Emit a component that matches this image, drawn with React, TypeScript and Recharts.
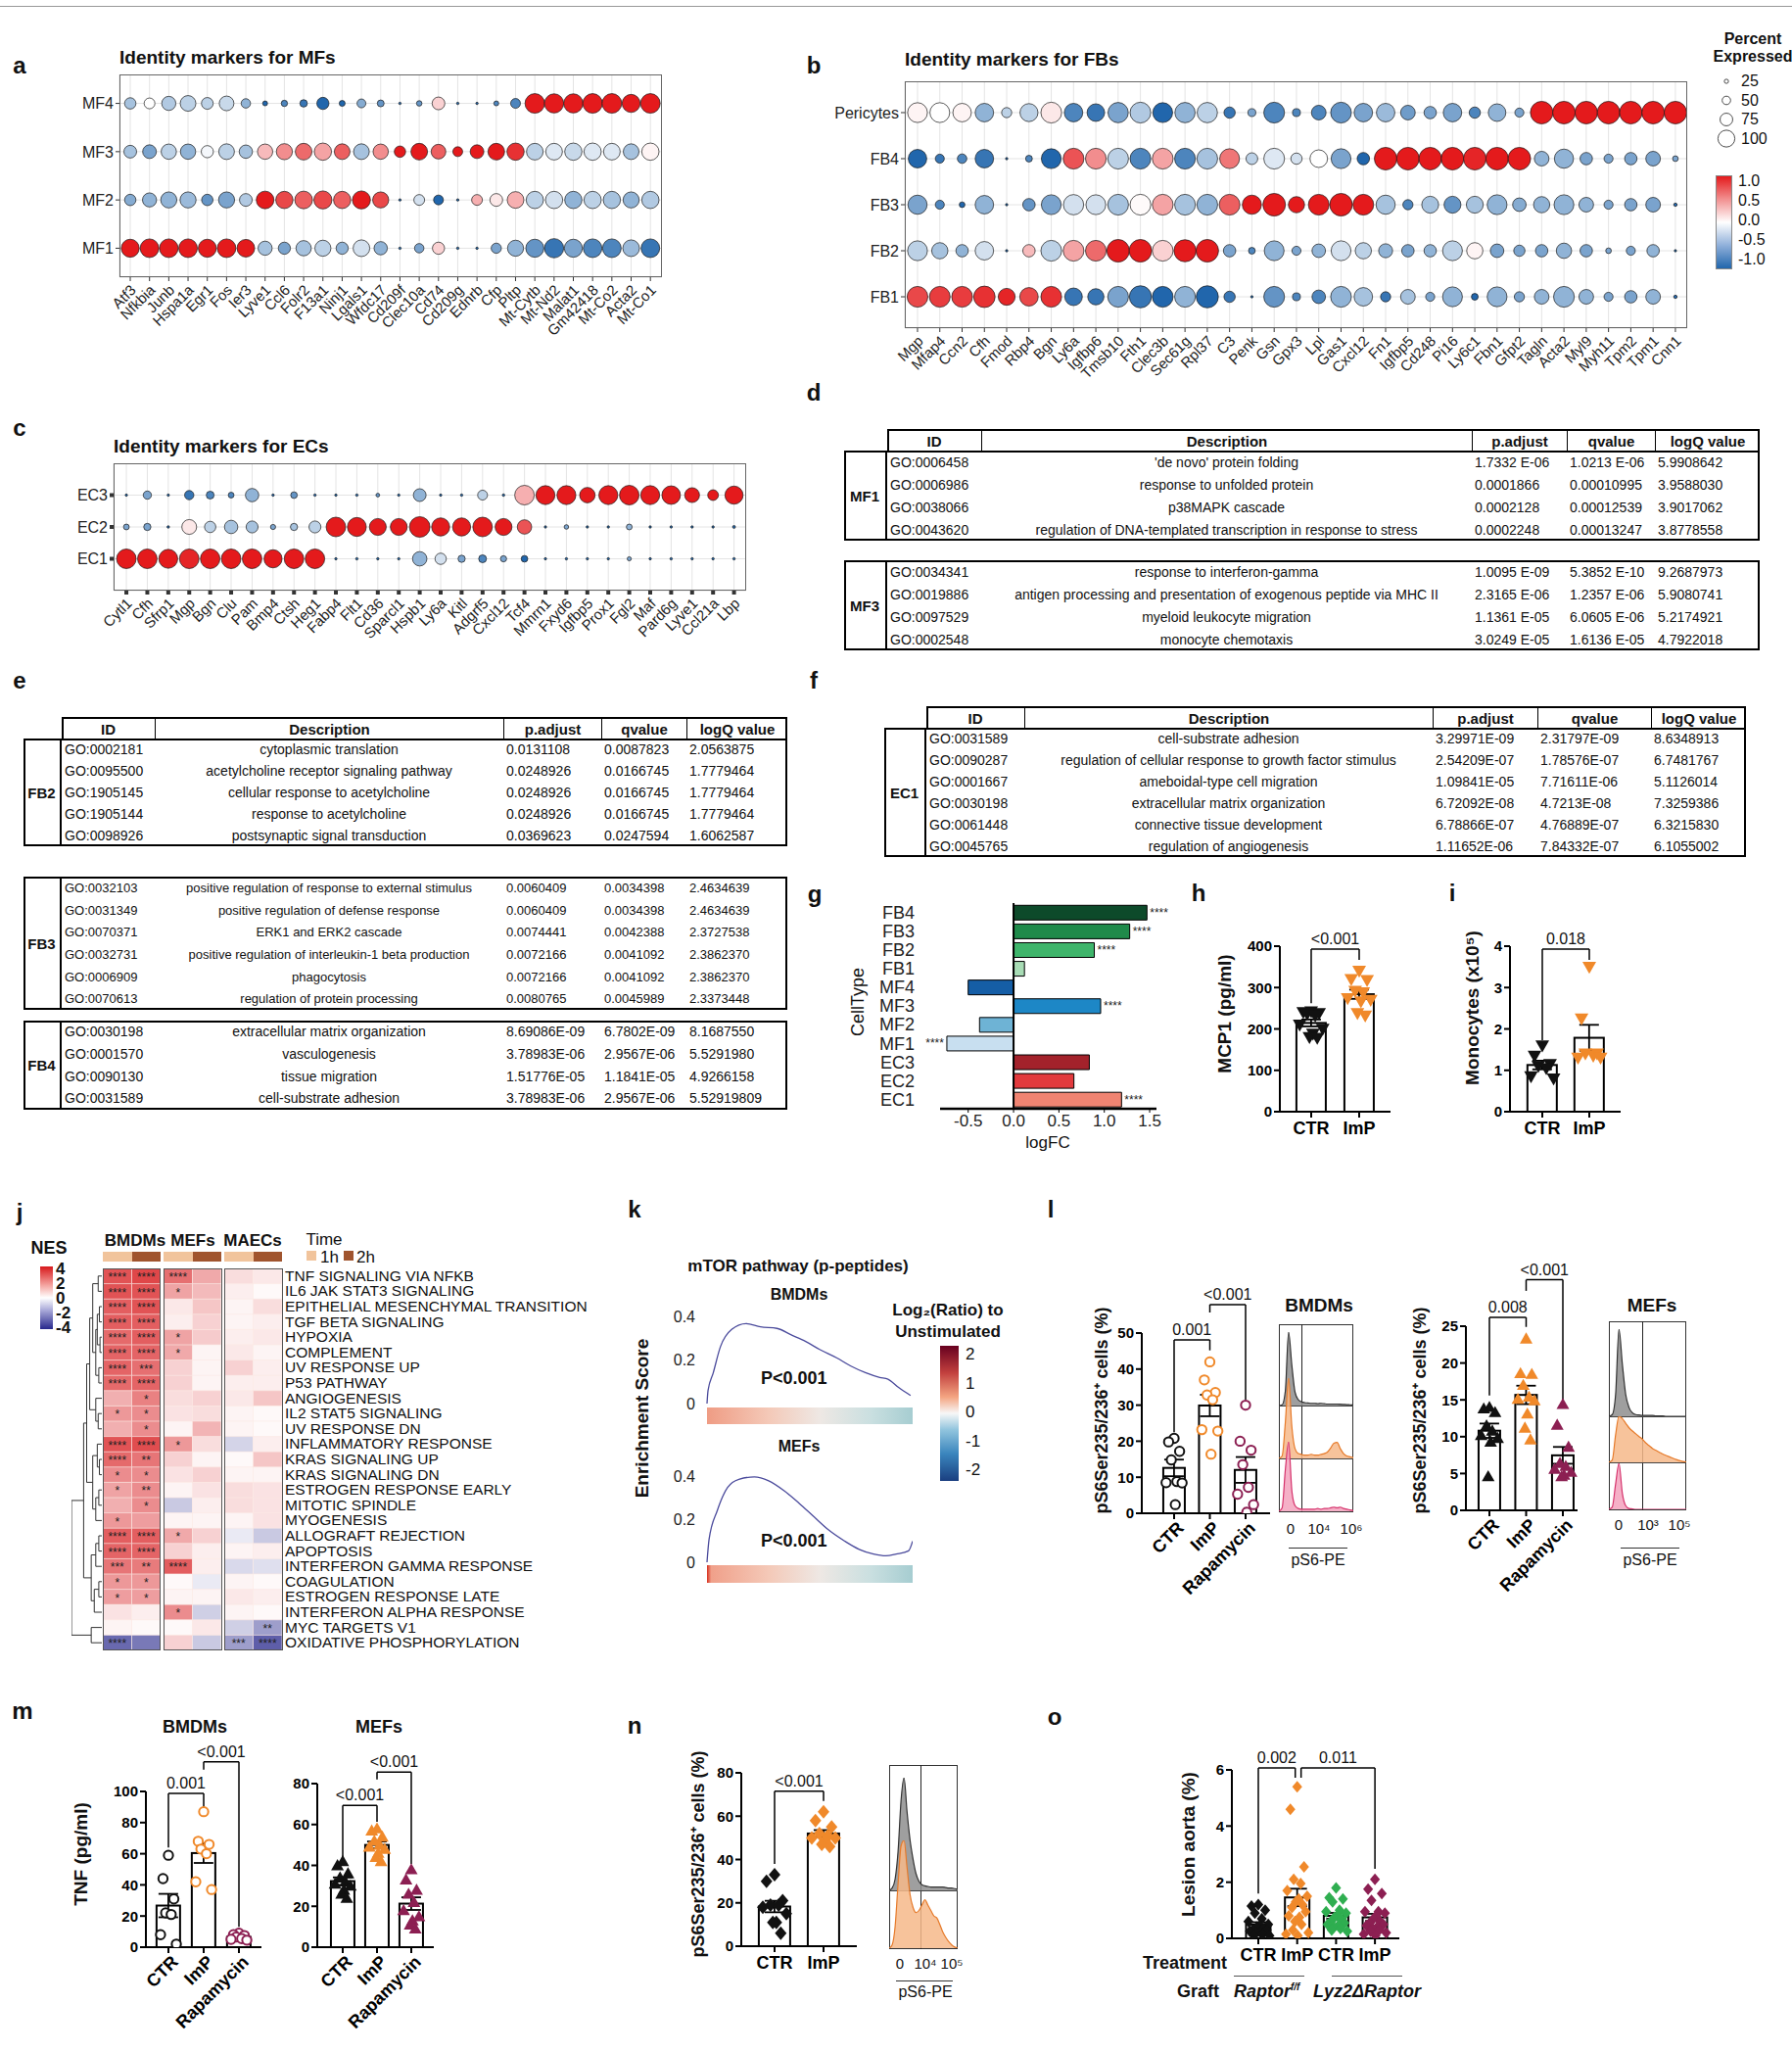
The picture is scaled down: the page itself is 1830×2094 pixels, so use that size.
import React from "react";
import {
  ScatterChart,
  Scatter,
  XAxis,
  YAxis,
  CartesianGrid,
  BarChart,
  Bar,
  Cell,
  LineChart,
  Line,
  AreaChart,
  Area,
  ComposedChart,
  ErrorBar,
  ReferenceLine,
  ReferenceDot,
  LabelList,
} from "recharts";

const FONT = "'Liberation Sans', Arial, Helvetica, sans-serif";
const NARROW = "'Liberation Sans Narrow', 'Liberation Sans', Arial, sans-serif";

// ---------- a: MF identity markers
const mfGenes = ["Atf3", "Nfkbia", "Junb", "Hspa1a", "Egr1", "Fos", "Ier3", "Lyve1", "Ccl6", "Folr2", "F13a1", "Ninj1", "Lgals1", "Wfdc17", "Cd209f", "Clec10a", "Cd74", "Cd209g", "Ednrb", "Cfp", "Pltp", "Mt-Cytb", "Mt-Nd2", "Malat1", "Gm42418", "Mt-Co2", "Acta2", "Mt-Co1"];
const mfRows = ["MF1", "MF2", "MF3", "MF4"];
const mf1Avg = [1, 1, 1, 1, 1, 1, 1, -0.4, -0.6, -0.4, -0.3, -0.5, -0.2, -0.5, -1, -0.6, 0.2, -1, -1, -0.6, -0.5, -0.7, -0.9, -0.6, -0.8, -0.8, -0.45, -0.9];
const mf1Pct = [92, 95, 95, 95, 92, 95, 90, 72, 62, 78, 82, 62, 85, 68, 6, 48, 62, 4, 10, 52, 82, 92, 98, 92, 95, 95, 85, 95];
const mf2Avg = [-0.55, -0.5, -0.5, -0.45, -0.7, -0.6, -0.35, 1, 0.8, 0.7, 0.8, 0.7, 1, 0.8, -1, -0.2, -1, -1, 0.35, 0.1, 0.35, -0.3, -0.2, -0.5, -0.3, -0.4, -0.5, -0.35];
const mf2Pct = [58, 72, 82, 82, 58, 82, 65, 90, 88, 90, 92, 88, 92, 82, 10, 55, 50, 10, 55, 65, 85, 88, 88, 88, 88, 88, 82, 88];
const mf3Avg = [-0.4, -0.6, -0.3, -0.5, -0.05, -0.3, -0.4, 0.3, 0.5, 0.65, 0.4, 0.7, -0.4, 0.5, 1, 1, 0.7, 1, 1, 1, 0.9, -0.3, -0.15, -0.25, -0.15, -0.15, -0.4, 0.05];
const mf3Pct = [65, 70, 78, 78, 62, 80, 68, 78, 82, 85, 88, 80, 80, 78, 58, 85, 75, 50, 70, 85, 88, 85, 85, 88, 88, 85, 80, 88];
const mf4Avg = [-0.4, 0, -0.35, -0.3, -0.3, -0.25, -0.5, -1, -0.8, -0.9, -1, -1, -0.55, -0.7, -1, -0.7, 0.2, -1, -1, -0.8, -0.8, 1, 1, 1, 1, 1, 1, 1];
const mf4Pct = [58, 55, 72, 80, 60, 75, 48, 25, 32, 38, 62, 30, 45, 35, 10, 28, 65, 5, 12, 25, 50, 100, 98, 98, 100, 100, 92, 100];

// ---------- b: FB identity markers
const fbGenes = ["Mgp", "Mfap4", "Ccn2", "Cfh", "Fmod", "Rbp4", "Bgn", "Ly6a", "Igfbp6", "Tmsb10", "Fth1", "Clec3b", "Sec61g", "Rpl37", "C3", "Penk", "Gsn", "Gpx3", "Lpl", "Gas1", "Cxcl12", "Fn1", "Igfbp5", "Cd248", "Pi16", "Ly6c1", "Fbn1", "Gfpt2", "Tagln", "Acta2", "Myl9", "Myh11", "Tpm2", "Tpm1", "Cnn1"];
const fbRows = ["FB1", "FB2", "FB3", "FB4", "Pericytes"];
const fb1Avg = [0.8, 0.85, 0.85, 0.9, 0.95, 0.8, 0.9, -0.9, -0.9, -0.6, -0.9, -1, -0.5, -1, -0.9, -1, -0.7, -0.8, -0.8, -0.5, -0.4, -0.9, -0.4, -0.6, -0.5, -1, -0.5, -0.6, -0.5, -0.5, -0.5, -0.6, -0.6, -0.5, -1];
const fb1Pct = [92, 92, 92, 95, 75, 82, 92, 78, 72, 92, 98, 92, 92, 98, 50, 10, 92, 35, 60, 92, 82, 45, 65, 40, 88, 30, 88, 45, 65, 92, 65, 40, 55, 65, 15];
const fb2Avg = [-0.3, -0.4, -0.5, -0.2, -1, 0.3, -0.3, 0.4, 0.65, 1, 1, 0.2, 1, 1, -0.6, -0.8, -0.5, -0.6, -0.5, -0.2, -0.3, -0.5, -0.6, -0.5, -0.3, 0.05, -0.6, -0.6, -0.6, -0.5, -0.6, -0.6, -0.6, -0.5, -1];
const fb2Pct = [88, 72, 55, 82, 10, 55, 92, 92, 92, 100, 100, 92, 98, 100, 55, 30, 88, 40, 60, 88, 72, 62, 55, 55, 88, 72, 60, 50, 55, 68, 55, 25, 40, 55, 8];
const fb3Avg = [-0.6, -0.8, -1, -0.5, -1, -0.7, -0.6, -0.2, -0.2, -0.4, 0.02, 0.4, -0.4, -0.5, 0.7, 1, 1, 1, 1, 1, 1, -0.4, -0.8, -0.4, -0.7, -0.4, -0.5, -0.55, -0.5, -0.5, -0.5, -0.6, -0.6, -0.6, -1];
const fb3Pct = [85, 40, 25, 82, 8, 55, 88, 90, 88, 92, 92, 92, 92, 92, 92, 85, 100, 72, 92, 100, 92, 85, 45, 75, 75, 75, 88, 60, 72, 88, 65, 40, 55, 65, 15];
const fb4Avg = [-1, -0.9, -0.8, -0.9, -1, -0.8, -1, 0.75, 0.5, -0.3, -0.8, 0.4, -0.8, -0.4, 0.6, -0.3, -0.15, -0.2, 0, -0.6, -1, 1, 1, 1, 1, 0.95, 1, 1, -0.5, -0.5, -0.6, -0.6, -0.6, -0.6, -0.6];
const fb4Pct = [82, 40, 42, 82, 5, 30, 88, 92, 92, 92, 92, 92, 92, 92, 88, 52, 92, 50, 78, 88, 55, 100, 100, 100, 100, 100, 100, 100, 65, 85, 55, 40, 55, 65, 25];
const periAvg = [0.05, 0, 0.05, -0.5, -0.3, -0.3, 0.1, -0.8, -0.9, -0.6, -0.35, -1, -0.5, -0.3, -0.9, -0.6, -0.8, -0.8, -0.8, -0.7, -0.6, -0.45, -0.65, -0.6, -0.6, -0.8, -0.5, -0.6, 1, 1, 1, 1, 1, 1, 1];
const periPct = [88, 88, 82, 82, 45, 80, 92, 82, 78, 90, 92, 88, 90, 90, 50, 35, 92, 35, 65, 92, 82, 82, 65, 55, 82, 50, 78, 40, 100, 100, 100, 100, 100, 100, 100];

// ---------- c: EC identity markers
const ecGenes = ["Cytl1", "Cfh", "Sfrp1", "Mgp", "Bgn", "Clu", "Pam", "Bmp4", "Ctsh", "Heg1", "Fabp4", "Flt1", "Cd36", "Sparcl1", "Hspb1", "Ly6a", "Kitl", "Adgrf5", "Cxcl12", "Tcf4", "Mmrn1", "Fxyd6", "Igfbp5", "Prox1", "Fgl2", "Maf", "Pard6g", "Lyve1", "Ccl21a", "Lbp"];
const ecRows = ["EC1", "EC2", "EC3"];
const ec1Avg = [1, 1, 1, 0.95, 1, 1, 1, 1, 1, 1, -1, -1, -1, -1, -0.5, -0.2, -0.6, -0.8, -0.6, -1, -1, -1, -1, -1, -0.6, -1, -1, -1, -1, -1];
const ec1Pct = [95, 95, 92, 95, 95, 95, 95, 88, 95, 95, 6, 10, 3, 6, 70, 55, 35, 38, 30, 32, 3, 10, 8, 3, 20, 3, 4, 4, 3, 3];
const ec2Avg = [-0.6, -0.6, -1, 0.1, -0.3, -0.4, -0.4, -0.6, -0.4, -0.3, 1, 1, 1, 1, 1, 1, 1, 1, 1, 0.75, -1, -0.6, -1, -1, -0.5, -1, -1, -1, -1, -1];
const ec2Pct = [28, 35, 12, 72, 55, 65, 58, 25, 35, 58, 95, 92, 82, 82, 100, 88, 88, 95, 82, 70, 3, 22, 10, 5, 28, 6, 3, 5, 3, 14];
const ec3Avg = [-1, -0.6, -1, -0.9, -0.8, -0.8, -0.5, -1, -0.7, -1, -1, -1, -0.7, -1, -0.5, -1, -1, -0.3, -1, 0.35, 1, 1, 1, 1, 1, 1, 1, 1, 1, 1];
const ec3Pct = [4, 40, 8, 45, 38, 28, 65, 10, 32, 10, 10, 4, 18, 4, 62, 5, 8, 48, 12, 95, 92, 92, 75, 92, 95, 92, 90, 72, 52, 88];

// ---------- d, e, f: GO tables
const mf1Go = [
  ["GO:0006458", "'de novo' protein folding", "1.7332 E-06", "1.0213 E-06", "5.9908642"],
  ["GO:0006986", "response to unfolded protein", "0.0001866", "0.00010995", "3.9588030"],
  ["GO:0038066", "p38MAPK cascade", "0.0002128", "0.00012539", "3.9017062"],
  ["GO:0043620", "regulation of DNA-templated transcription in response to stress", "0.0002248", "0.00013247", "3.8778558"],
];
const mf3Go = [
  ["GO:0034341", "response to interferon-gamma", "1.0095 E-09", "5.3852 E-10", "9.2687973"],
  ["GO:0019886", "antigen processing and presentation of exogenous peptide via MHC II", "2.3165 E-06", "1.2357 E-06", "5.9080741"],
  ["GO:0097529", "myeloid leukocyte migration", "1.1361 E-05", "6.0605 E-06", "5.2174921"],
  ["GO:0002548", "monocyte chemotaxis", "3.0249 E-05", "1.6136 E-05", "4.7922018"],
];
const fb2Go = [
  ["GO:0002181", "cytoplasmic translation", "0.0131108", "0.0087823", "2.0563875"],
  ["GO:0095500", "acetylcholine receptor signaling pathway", "0.0248926", "0.0166745", "1.7779464"],
  ["GO:1905145", "cellular response to acetylcholine", "0.0248926", "0.0166745", "1.7779464"],
  ["GO:1905144", "response to acetylcholine", "0.0248926", "0.0166745", "1.7779464"],
  ["GO:0098926", "postsynaptic signal transduction", "0.0369623", "0.0247594", "1.6062587"],
];
const fb3Go = [
  ["GO:0032103", "positive regulation of response to external stimulus", "0.0060409", "0.0034398", "2.4634639"],
  ["GO:0031349", "positive regulation of defense response", "0.0060409", "0.0034398", "2.4634639"],
  ["GO:0070371", "ERK1 and ERK2 cascade", "0.0074441", "0.0042388", "2.3727538"],
  ["GO:0032731", "positive regulation of interleukin-1 beta production", "0.0072166", "0.0041092", "2.3862370"],
  ["GO:0006909", "phagocytosis", "0.0072166", "0.0041092", "2.3862370"],
  ["GO:0070613", "regulation of protein processing", "0.0080765", "0.0045989", "2.3373448"],
];
const fb4Go = [
  ["GO:0030198", "extracellular matrix organization", "8.69086E-09", "6.7802E-09", "8.1687550"],
  ["GO:0001570", "vasculogenesis", "3.78983E-06", "2.9567E-06", "5.5291980"],
  ["GO:0090130", "tissue migration", "1.51776E-05", "1.1841E-05", "4.9266158"],
  ["GO:0031589", "cell-substrate adhesion", "3.78983E-06", "2.9567E-06", "5.52919809"],
];
const ec1Go = [
  ["GO:0031589", "cell-substrate adhesion", "3.29971E-09", "2.31797E-09", "8.6348913"],
  ["GO:0090287", "regulation of cellular response to growth factor stimulus", "2.54209E-07", "1.78576E-07", "6.7481767"],
  ["GO:0001667", "ameboidal-type cell migration", "1.09841E-05", "7.71611E-06", "5.1126014"],
  ["GO:0030198", "extracellular matrix organization", "6.72092E-08", "4.7213E-08", "7.3259386"],
  ["GO:0061448", "connective tissue development", "6.78866E-07", "4.76889E-07", "6.3215830"],
  ["GO:0045765", "regulation of angiogenesis", "1.11652E-06", "7.84332E-07", "6.1055002"],
];

// ---------- g: logFC per cell type
const gCats = ["FB4", "FB3", "FB2", "FB1", "MF4", "MF3", "MF2", "MF1", "EC3", "EC2", "EC1"];
const gLogFC = [1.47, 1.28, 0.89, 0.12, -0.5, 0.96, -0.375, -0.735, 0.835, 0.665, 1.19];
const gSig = ["****", "****", "****", "", "", "****", "", "****", "", "", "****"];
const gColors = ["#0d4a2a", "#1f8a4a", "#3fb56b", "#a8dcb5", "#155ea6", "#1d87c6", "#6eb3d5", "#c8dff0", "#a3222b", "#e23a3d", "#f08472"];

// ---------- h, i
const mcp1Ctr = [242, 240, 238, 236, 232, 210, 200, 188, 180, 178];
const mcp1Imp = [340, 320, 318, 292, 288, 274, 270, 266, 238, 232];
const monoCtr = [1.6, 1.35, 1.15, 1.1, 1.05, 0.85, 0.8];
const monoImp = [3.5, 2.25, 1.4, 1.4, 1.35, 1.3, 1.3];

// ---------- j: NES heatmap
const heatRows = ["TNF SIGNALING VIA NFKB", "IL6 JAK STAT3 SIGNALING", "EPITHELIAL MESENCHYMAL TRANSITION", "TGF BETA SIGNALING", "HYPOXIA", "COMPLEMENT", "UV RESPONSE UP", "P53 PATHWAY", "ANGIOGENESIS", "IL2 STAT5 SIGNALING", "UV RESPONSE DN", "INFLAMMATORY RESPONSE", "KRAS SIGNALING UP", "KRAS SIGNALING DN", "ESTROGEN RESPONSE EARLY", "MITOTIC SPINDLE", "MYOGENESIS", "ALLOGRAFT REJECTION", "APOPTOSIS", "INTERFERON GAMMA RESPONSE", "COAGULATION", "ESTROGEN RESPONSE LATE", "INTERFERON ALPHA RESPONSE", "MYC TARGETS V1", "OXIDATIVE PHOSPHORYLATION"];
const nesB1 = [3.0, 3.0, 2.8, 2.8, 2.6, 2.7, 2.7, 2.6, 1.4, 1.8, 1.4, 3.0, 2.6, 2.0, 1.6, 1.4, 1.8, 2.8, 2.7, 2.4, 1.8, 1.7, 0.5, 0.2, -2.8];
const nesB2 = [3.2, 3.0, 3.0, 2.8, 2.8, 2.7, 2.5, 2.7, 2.2, 2.0, 2.0, 3.1, 2.4, 2.0, 2.0, 2.0, 1.7, 2.8, 2.7, 2.3, 1.8, 1.7, 0.3, 0.1, -2.5];
const nesM1 = [2.5, 1.6, 0.4, 0.3, 1.6, 1.5, 0.8, 0.8, 0.6, 0.5, 0.2, 1.8, 0.8, 0.5, 0.2, -1.0, 0.2, 1.5, 0.8, 2.8, 0.1, 0.2, 2.0, 0.1, 0.8];
const nesM2 = [1.5, 1.2, 1.0, 0.8, 0.9, 0.2, 0.2, 0.2, 0.8, 0.6, 1.3, 0.6, 0.2, 0.8, 0.5, 0.3, 0.2, 0.8, 0.3, 0.3, -0.4, 0.2, -0.9, 0.4, -1.0];
const nesA1 = [0.6, 0.3, 0.2, 0.2, 0.3, 0.4, 0.8, 0.3, 0.4, 0.2, 0.2, -0.8, 0.1, 0.2, 0.6, 0.6, 0.2, -0.4, 0.2, -0.7, 0.2, 0.4, 0.2, -0.9, -1.8];
const nesA2 = [0.4, 0.1, 0.6, 0.3, 0.4, 0.2, 0.3, 0.3, 1.0, 0.1, 0.1, 0.3, 1.0, 0.2, 0.5, 0.5, 0.5, -1.0, 0.3, -0.6, 0.1, 0.3, 0.1, -1.8, -3.0];
const starsB1 = ["****", "****", "****", "****", "****", "****", "****", "****", "", "*", "", "****", "****", "*", "*", "", "*", "****", "****", "***", "*", "*", "", "", "****"];
const starsB2 = ["****", "****", "****", "****", "****", "****", "***", "****", "*", "*", "*", "****", "**", "*", "**", "*", "", "****", "****", "**", "*", "*", "", "", ""];
const starsM1 = ["****", "*", "", "", "*", "*", "", "", "", "", "", "*", "", "", "", "", "", "*", "", "****", "", "", "*", "", ""];
const starsA1 = ["", "", "", "", "", "", "", "", "", "", "", "", "", "", "", "", "", "", "", "", "", "", "", "", "***"];
const starsA2 = ["", "", "", "", "", "", "", "", "", "", "", "", "", "", "", "", "", "", "", "", "", "", "", "**", "****"];
// dendrogram merges: [child a, child b, height]
const dendroMerges = [
  [0, 1, 0.12], [2, 3, 0.08], [4, 5, 0.06], [26, 27, 0.15], [6, 7, 0.1], [28, 29, 0.2], [25, 30, 0.3],
  [9, 10, 0.12], [8, 32, 0.2], [31, 33, 0.4], [12, 13, 0.08], [11, 35, 0.15], [14, 15, 0.1], [37, 16, 0.2],
  [36, 38, 0.3], [34, 39, 0.5], [17, 18, 0.1], [41, 19, 0.2], [20, 21, 0.1], [43, 22, 0.25], [42, 44, 0.35],
  [40, 45, 0.6], [23, 24, 0.35], [46, 47, 1.0],
];

// ---------- k: running enrichment score
const bmdmRank = [0, 0.005, 0.03, 0.065, 0.12, 0.19, 0.26, 0.34, 0.41, 0.48, 0.55, 0.63, 0.7, 0.77, 0.84, 0.88, 0.93, 0.99];
const bmdmEs = [0, 0.06, 0.14, 0.26, 0.34, 0.367, 0.352, 0.345, 0.315, 0.285, 0.247, 0.21, 0.172, 0.142, 0.12, 0.112, 0.075, 0.037];
const mefRank = [0, 0.01, 0.05, 0.1, 0.155, 0.23, 0.3, 0.375, 0.45, 0.52, 0.59, 0.67, 0.74, 0.81, 0.87, 0.92, 0.98, 1.0];
const mefEs = [0, 0.106, 0.24, 0.347, 0.385, 0.396, 0.378, 0.332, 0.272, 0.211, 0.151, 0.098, 0.06, 0.038, 0.03, 0.038, 0.053, 0.098];

// ---------- l
const lBmdmCtr = [20.8, 19.8, 17.2, 14.8, 8.8, 8.5, 8.4, 2.4];
const lBmdmImp = [42, 37, 33.5, 32.8, 31.5, 23.2, 22.8, 16.4];
const lBmdmRapa = [30, 20, 17.5, 13.5, 7.2, 5.3, 2.4, 0.3];
const lMefCtr = [14, 13.8, 13.3, 11.5, 10.8, 10.2, 9.8, 9.3, 4.6];
const lMefImp = [23.3, 18.6, 18.5, 17.0, 15.4, 15.1, 14.9, 13.1, 11.2, 9.6];
const lMefRapa = [14.4, 11.6, 8.6, 6.4, 6.0, 5.6, 5.2, 4.8, 4.6];
const histBmdmCtr = [0, 0.01, 0.2, 1.0, 0.55, 0.18, 0.08, 0.05, 0.04, 0.035, 0.03, 0.03, 0.025, 0.03, 0.025, 0.02, 0.02, 0.02, 0.02, 0.018, 0.015, 0.012, 0.01, 0.008];
const histBmdmImp = [0, 0.03, 0.45, 1.0, 0.4, 0.12, 0.06, 0.05, 0.04, 0.04, 0.05, 0.04, 0.04, 0.05, 0.06, 0.08, 0.13, 0.19, 0.2, 0.12, 0.06, 0.03, 0.02, 0.01];
const histBmdmRapa = [0, 0.05, 0.6, 1.0, 0.3, 0.08, 0.04, 0.03, 0.03, 0.03, 0.03, 0.03, 0.04, 0.03, 0.04, 0.04, 0.05, 0.06, 0.05, 0.06, 0.04, 0.03, 0.02, 0.01];
const histMefCtr = [0, 0.02, 0.25, 1.0, 0.6, 0.25, 0.1, 0.04, 0.02, 0.015, 0.01, 0.01, 0.01, 0.01, 0.005, 0.005, 0.005, 0, 0, 0, 0, 0, 0, 0];
const histMefImp = [0, 0.05, 0.6, 1.0, 0.95, 0.85, 0.75, 0.68, 0.62, 0.56, 0.5, 0.42, 0.36, 0.3, 0.26, 0.22, 0.18, 0.15, 0.12, 0.09, 0.06, 0.04, 0.02, 0.01];
const histMefRapa = [0, 0.05, 0.55, 1.0, 0.35, 0.08, 0.02, 0.01, 0, 0, 0, 0, 0, 0, 0, 0, 0, 0, 0, 0, 0, 0, 0, 0];

// ---------- m
const tnfBmdmCtr = [59, 44, 31, 22, 21, 8, 2];
const tnfBmdmImp = [87, 68, 66, 63, 60, 42, 37];
const tnfBmdmRapa = [9, 8, 7.5, 6.5, 5.5, 5, 4.5];
const tnfMefCtr = [42, 40, 36, 34, 32, 31, 30, 28, 26, 24];
const tnfMefImp = [58, 57, 54, 52, 50, 49, 48, 46, 44, 42];
const tnfMefRapa = [38, 33, 28, 26, 22, 18, 15, 13, 11, 9];

// ---------- n
const nCtr = [33, 30, 21, 19, 19, 18, 15, 11, 11, 6];
const nImp = [62, 58, 55, 52, 51, 50, 50, 49, 47, 46];
const histNCtr = [0, 0.02, 0.1, 0.35, 0.8, 1.0, 0.7, 0.45, 0.28, 0.15, 0.08, 0.05, 0.04, 0.035, 0.03, 0.03, 0.03, 0.03, 0.03, 0.025, 0.02, 0.02, 0.015, 0.01];
const histNImp = [0, 0.03, 0.2, 0.6, 0.95, 1.0, 0.75, 0.5, 0.38, 0.33, 0.35, 0.4, 0.45, 0.4, 0.35, 0.3, 0.28, 0.22, 0.15, 0.1, 0.06, 0.03, 0.01, 0];

// ---------- o
const lesRapCtr = [1.2, 1.15, 1.0, 0.9, 0.7, 0.6, 0.5, 0.45, 0.4, 0.35, 0.3, 0.3, 0.25, 0.2, 0.2, 0.15, 0.1, 0.1];
const lesRapImp = [5.4, 4.6, 2.55, 2.1, 1.95, 1.7, 1.5, 1.4, 1.3, 1.2, 1.1, 0.95, 0.8, 0.75, 0.6, 0.5, 0.3, 0.2, 0.15, 0.1];
const lesLyzCtr = [1.8, 1.45, 1.4, 1.3, 1.0, 0.95, 0.9, 0.8, 0.75, 0.7, 0.6, 0.55, 0.5, 0.45, 0.4, 0.35, 0.3, 0.25];
const lesLyzImp = [2.1, 1.75, 1.6, 1.35, 0.95, 0.95, 0.9, 0.8, 0.7, 0.6, 0.55, 0.5, 0.45, 0.4, 0.35, 0.3, 0.25, 0.2, 0.15, 0.1];

// ---------- helpers
const BLACK = "#111";
const ORANGE = "#f0892a";
const MAROON = "#8c1f52";
const GREEN = "#2fae50";
const JIT = [0, -0.55, 0.55, -0.28, 0.28, -0.8, 0.8, 0.12, -0.12, 0.42, -0.42, 0.68, -0.68, 0.18, -0.18, 0.35, -0.35, 0.9, -0.9, 0.05, -0.05];

const mean = (a: number[]) => a.reduce((s, v) => s + v, 0) / a.length;
const sem = (a: number[]) => {
  const m = mean(a);
  return Math.sqrt(a.reduce((s, v) => s + (v - m) ** 2, 0) / (a.length - 1)) / Math.sqrt(a.length);
};
const mix = (c: number[], t: number) =>
  `rgb(${Math.round(255 + (c[0] - 255) * t)},${Math.round(255 + (c[1] - 255) * t)},${Math.round(255 + (c[2] - 255) * t)})`;
const divColor = (v: number) => {
  const t = Math.max(-1, Math.min(1, v));
  return t < 0 ? mix([33, 102, 172], -t) : mix([228, 26, 28], t);
};
const nesColor = (v: number) => {
  const t = Math.max(-4, Math.min(4, v)) / 4;
  return t < 0 ? mix([40, 40, 140], -t) : mix([215, 25, 28], t);
};

function T({ x, y, s = 15, b = false, a = "c", f = FONT, rot = 0, it = false, children, st = {} }: any) {
  const tx = a === "c" ? "-50%" : a === "r" ? "-100%" : "0";
  return (
    <div
      style={{
        position: "absolute", left: x, top: y, transform: `translate(${tx}, -50%) rotate(${rot}deg)`,
        fontSize: s, fontWeight: b ? 700 : 400, fontStyle: it ? "italic" : "normal", fontFamily: f,
        whiteSpace: "nowrap", lineHeight: 1, color: "#111", ...st,
      }}
    >
      {children}
    </div>
  );
}
const Letter = ({ x, y, t }: any) => <T x={x} y={y} s={24} b>{t}</T>;

// ---------- dot plot (a, b, c)
function DotPlot({ genes, rows, avg, pct, box, xDom, yDom, rmax, yw, sq = false, fs = 15 }: any) {
  const [bx, by, bw, bh] = box;
  const xh = 80;
  const data = rows.flatMap((r: string, ri: number) =>
    genes.map((g: string, gi: number) => ({ x: gi + 1, y: ri + 1, v: avg[ri][gi], p: pct[ri][gi] }))
  );
  const geneTick = (props: any) => {
    const { x, y, payload } = props;
    const name = genes[Math.round(payload.value) - 1];
    return (
      <text x={x} y={y} transform={`rotate(-45 ${x} ${y})`} textAnchor="end" dy={fs * 0.7} dx={-1} fontSize={fs} fill="#222" fontFamily={FONT}>
        {name}
      </text>
    );
  };
  return (
    <div style={{ position: "absolute", left: bx - yw, top: by }}>
      <ScatterChart width={bw + yw} height={bh + xh} margin={{ top: 0, right: 0, bottom: 0, left: 0 }}>
        <CartesianGrid stroke="#e4e4e4" strokeWidth={1} />
        <XAxis type="number" dataKey="x" domain={xDom} allowDataOverflow ticks={genes.map((_: any, i: number) => i + 1)} interval={0} height={xh} axisLine={false} tickLine={{ stroke: "#333", strokeWidth: sq ? 4 : 1 }} tickSize={4} tick={geneTick} />
        <YAxis type="number" dataKey="y" domain={yDom} allowDataOverflow ticks={rows.map((_: any, i: number) => i + 1)} interval={0} width={yw} axisLine={false} tickLine={{ stroke: "#333", strokeWidth: sq ? 4 : 1 }} tickSize={4} tickFormatter={(v: number) => rows[Math.round(v) - 1]} tick={{ fontSize: fs + 1, fill: "#222", fontFamily: FONT }} />
        <Scatter
          data={data}
          isAnimationActive={false}
          shape={(props: any) => {
            const { cx, cy, payload } = props;
            if (cx == null) return <g />;
            return <circle cx={cx} cy={cy} r={Math.max(1.2, (rmax * payload.p) / 100)} fill={divColor(payload.v)} stroke="#1a1a1a" strokeWidth={0.7} />;
          }}
        />
      </ScatterChart>
      <div style={{ position: "absolute", left: yw, top: 0, width: bw, height: bh, border: "1.3px solid #666", boxSizing: "border-box", pointerEvents: "none" }} />
    </div>
  );
}

// ---------- GO tables
const GO_HEAD = ["ID", "Description", "p.adjust", "qvalue", "logQ value"];
function GoHeader({ x, y, w, h }: any) {
  return (
    <div style={{ position: "absolute", left: x, top: y, height: h, width: w.reduce((s: number, v: number) => s + v, 0), display: "flex", outline: "2px solid #000", outlineOffset: -2, fontWeight: 700, fontSize: 15 }}>
      {w.map((cw: number, i: number) => (
        <div key={i} style={{ width: cw, boxSizing: "border-box", borderLeft: i ? "1.5px solid #000" : "none", display: "flex", alignItems: "center", justifyContent: "center" }}>
          {GO_HEAD[i]}
        </div>
      ))}
    </div>
  );
}
function GoBlock({ gx, x0, w, y, rh, name, rows, fs = 14 }: any) {
  const total = x0 - gx + w.reduce((s: number, v: number) => s + v, 0);
  return (
    <div style={{ position: "absolute", left: gx, top: y, width: total, height: rows.length * rh, outline: "2px solid #000", outlineOffset: -2, display: "flex", fontSize: fs }}>
      <div style={{ width: x0 - gx, flex: "none", borderRight: "2px solid #000", boxSizing: "border-box", display: "flex", alignItems: "center", justifyContent: "center", fontWeight: 700, fontSize: 15 }}>{name}</div>
      <div>
        {rows.map((r: string[], ri: number) => (
          <div key={ri} style={{ display: "flex", height: rh, alignItems: "center" }}>
            {r.map((c, i) => (
              <div key={i} style={{ width: w[i], flex: "none", textAlign: i === 1 ? "center" : "left", paddingLeft: i === 1 ? 0 : 3, boxSizing: "border-box", whiteSpace: "nowrap" }}>{c}</div>
            ))}
          </div>
        ))}
      </div>
    </div>
  );
}

// ---------- bar + dots (h, i, l, m, n, o)
const marker = (props: any) => {
  const { cx, cy, payload } = props;
  if (cx == null || cy == null) return <g />;
  const s = payload.s;
  const c = payload.c;
  if (payload.m === "tdown") return <polygon points={`${cx - s},${cy - s * 0.75} ${cx + s},${cy - s * 0.75} ${cx},${cy + s}`} fill={c} />;
  if (payload.m === "tup") return <polygon points={`${cx - s},${cy + s * 0.75} ${cx + s},${cy + s * 0.75} ${cx},${cy - s}`} fill={c} />;
  if (payload.m === "circle") return <circle cx={cx} cy={cy} r={s * 0.72} fill="#fff" stroke={c} strokeWidth={2} />;
  return <polygon points={`${cx},${cy - s} ${cx + s * 0.85},${cy} ${cx},${cy + s} ${cx - s * 0.85},${cy}`} fill={c} />;
};

function BarDots({ ax, y0, yTop, xEnd, c1, unit, yMax, ticks, groups, barW, brackets, rot = false, jit = 0.3, ms = 7, fs = 15, xfs = 18 }: any) {
  const yw = 50;
  const mt = 80;
  const xh = 120;
  const lo = 1 - (c1 - ax) / unit;
  const hi = lo + (xEnd - ax) / unit;
  const bars = groups.map((g: any, i: number) => ({ x: i + 1, mean: mean(g.vals), sem: sem(g.vals) }));
  const pts = groups.flatMap((g: any, i: number) =>
    g.vals.map((v: number, k: number) => ({ x: i + 1 + JIT[k % JIT.length] * jit, y: v, c: g.color, m: g.marker, s: ms }))
  );
  const names = groups.map((g: any) => g.name);
  const xTick = (props: any) => {
    const { x, y, payload } = props;
    const name = names[Math.round(payload.value) - 1];
    if (rot)
      return (
        <text x={x} y={y} transform={`rotate(-45 ${x} ${y})`} textAnchor="end" dy={xfs * 0.75} dx={2} fontSize={xfs} fontWeight={700} fill="#000" fontFamily={FONT}>
          {name}
        </text>
      );
    return (
      <text x={x} y={y} textAnchor="middle" dy={xfs * 0.85} fontSize={xfs} fontWeight={700} fill="#000" fontFamily={FONT}>
        {name}
      </text>
    );
  };
  const barShape = (props: any) => {
    const { x, y, width, height } = props;
    if (x == null || y == null) return <g />;
    const cx = x + (width || 0) / 2;
    return <rect x={cx - barW / 2} y={y} width={barW} height={Math.max(0, height)} fill="#fff" stroke="#000" strokeWidth={2} />;
  };
  const refs: any[] = [];
  brackets.forEach((b: any, i: number) => {
    refs.push(<ReferenceLine key={`a${i}`} segment={[{ x: b.x1, y: b.l }, { x: b.x1, y: b.top }]} stroke="#000" strokeWidth={1.5} ifOverflow="visible" />);
    refs.push(<ReferenceLine key={`b${i}`} segment={[{ x: b.x1, y: b.top }, { x: b.x2, y: b.top }]} stroke="#000" strokeWidth={1.5} ifOverflow="visible" />);
    refs.push(<ReferenceLine key={`c${i}`} segment={[{ x: b.x2, y: b.top }, { x: b.x2, y: b.r }]} stroke="#000" strokeWidth={1.5} ifOverflow="visible" />);
    refs.push(<ReferenceDot key={`d${i}`} x={(b.x1 + b.x2) / 2} y={b.top} r={1} fill="none" stroke="none" ifOverflow="visible" label={{ value: b.text, position: "top", fontSize: 16, fill: "#111", fontFamily: FONT, offset: 4 }} />);
  });
  return (
    <div style={{ position: "absolute", left: ax - yw, top: yTop - mt }}>
      <ComposedChart width={yw + (xEnd - ax) + 2} height={mt + (y0 - yTop) + xh} data={bars} margin={{ top: mt, right: 2, bottom: 0, left: 0 }}>
        <XAxis type="number" dataKey="x" domain={[lo, hi]} allowDataOverflow ticks={groups.map((_: any, i: number) => i + 1)} interval={0} height={xh} axisLine={{ stroke: "#000", strokeWidth: 2 }} tickLine={{ stroke: "#000", strokeWidth: 2 }} tickSize={6} tick={xTick} />
        <YAxis type="number" domain={[0, yMax]} allowDataOverflow ticks={ticks} interval={0} width={yw} axisLine={{ stroke: "#000", strokeWidth: 2 }} tickLine={{ stroke: "#000", strokeWidth: 2 }} tickSize={6} tick={{ fontSize: fs, fontWeight: 700, fill: "#000", fontFamily: FONT }} />
        <Bar dataKey="mean" barSize={barW} shape={barShape} isAnimationActive={false}>
          <ErrorBar dataKey="sem" width={10} stroke="#000" strokeWidth={1.8} direction="y" />
        </Bar>
        <Scatter data={pts} dataKey="y" shape={marker} isAnimationActive={false} />
        {refs}
      </ComposedChart>
    </div>
  );
}

// ---------- flow histogram
function Hist({ x, w, base, h, vals, fill, stroke }: any) {
  const data = vals.map((d: number, i: number) => ({ b: i, d }));
  return (
    <div style={{ position: "absolute", left: x, top: base - h }}>
      <AreaChart width={w} height={h} data={data} margin={{ top: 0, right: 0, bottom: 0, left: 0 }}>
        <XAxis type="number" dataKey="b" domain={[0, vals.length - 1]} hide />
        <YAxis type="number" domain={[0, 1]} hide allowDataOverflow />
        <Area type="monotone" dataKey="d" fill={fill} fillOpacity={0.85} stroke={stroke} strokeWidth={1.2} isAnimationActive={false} />
      </AreaChart>
    </div>
  );
}
function HistBox({ x, y, w, h, gate, dividers, ticks, tickY }: any) {
  return (
    <>
      <div style={{ position: "absolute", left: x, top: y, width: w, height: h, border: "1px solid #333", boxSizing: "border-box" }} />
      <div style={{ position: "absolute", left: gate, top: y, width: 1, height: h, background: "#222" }} />
      {dividers.map((d: number, i: number) => (
        <div key={i} style={{ position: "absolute", left: x, top: d, width: w, height: 1, background: "#444" }} />
      ))}
      {ticks.map((t: any, i: number) => (
        <T key={i} x={t[0]} y={tickY} s={15}>{t[1]}</T>
      ))}
    </>
  );
}

function Gsea({ top, h, rank, es }: any) {
  const data = rank.map((r: number, i: number) => ({ r, es: es[i] }));
  return (
    <div style={{ position: "absolute", left: 722 - 34, top: top - 10 }}>
      <LineChart width={34 + 210} height={h + 20} data={data} margin={{ top: 10, right: 0, bottom: 10, left: 0 }}>
        <XAxis type="number" dataKey="r" domain={[0, 1]} hide />
        <YAxis type="number" domain={[0, 0.4]} allowDataOverflow ticks={[0, 0.2, 0.4]} width={34} axisLine={false} tickLine={false} tickSize={0} tickMargin={12} tick={{ fontSize: 16, fill: "#222", fontFamily: NARROW }} />
        <Line dataKey="es" type="monotone" stroke="#4b4b9c" strokeWidth={1.3} dot={false} isAnimationActive={false} />
      </LineChart>
    </div>
  );
}

// ---------- panels
function PanelG() {
  const data = gCats.map((c, i) => ({ name: c, v: gLogFC[i], s: gSig[i] }));
  const star = (props: any) => {
    const { x, y, width, height, value } = props;
    if (!value) return null;
    const l = Math.min(x, x + width);
    const r = Math.max(x, x + width);
    const neg = width < 0;
    return (
      <text x={neg ? l - 3 : r + 3} y={y + height / 2 + 4} textAnchor={neg ? "end" : "start"} fontSize={12} fill="#222" fontFamily={FONT}>
        {value}
      </text>
    );
  };
  return (
    <div style={{ position: "absolute", left: 890, top: 922 }}>
      <BarChart layout="vertical" width={70 + 221 + 50} height={210 + 30} data={data} margin={{ top: 0, right: 50, bottom: 0, left: 0 }} barCategoryGap="12%">
        <XAxis type="number" domain={[-0.81, 1.575]} allowDataOverflow ticks={[-0.5, 0, 0.5, 1, 1.5]} tickFormatter={(v: number) => v.toFixed(1)} height={30} axisLine={{ stroke: "#000", strokeWidth: 2.5 }} tickLine={{ stroke: "#000" }} tickSize={4} tick={{ fontSize: 17, fill: "#222", fontFamily: NARROW }} />
        <YAxis type="category" dataKey="name" width={70} interval={0} axisLine={false} tickLine={false} tickSize={0} tickMargin={26} tick={{ fontSize: 18, fill: "#222", fontFamily: NARROW }} />
        <Bar dataKey="v" stroke="#000" strokeWidth={1} isAnimationActive={false}>
          {data.map((d, i) => (
            <Cell key={i} fill={gColors[i]} />
          ))}
          <LabelList dataKey="s" content={star} />
        </Bar>
        <ReferenceLine x={0} stroke="#000" strokeWidth={2} />
      </BarChart>
    </div>
  );
}

function PanelJ() {
  const data = heatRows.map((n, i) => ({
    name: n, b1: 1, b2: 1, g1: 0.1, m1: 1, m2: 1, g2: 0.1, a1: 1, a2: 1,
    sb1: starsB1[i], sb2: starsB2[i], sm1: starsM1[i], sa1: starsA1[i], sa2: starsA2[i],
  }));
  const cols = [
    { k: "b1", nes: nesB1, s: "sb1" }, { k: "b2", nes: nesB2, s: "sb2" }, { k: "g1" },
    { k: "m1", nes: nesM1, s: "sm1" }, { k: "m2", nes: nesM2 }, { k: "g2" },
    { k: "a1", nes: nesA1, s: "sa1" }, { k: "a2", nes: nesA2, s: "sa2" },
  ];
  const starLbl = (props: any) => {
    const { x, y, width, height, value } = props;
    if (!value) return null;
    return (
      <text x={x + width / 2} y={y + height / 2 + 5} textAnchor="middle" fontSize={12} fill="#222" fontFamily={FONT}>
        {value}
      </text>
    );
  };
  const rowTick = (props: any) => (
    <text x={props.x} y={props.y} dy={5} textAnchor="start" fontSize={15.5} fill="#111" fontFamily={FONT}>
      {props.payload.value}
    </text>
  );
  // dendrogram
  const nodes: { y: number; h: number }[] = heatRows.map((_, i) => ({ y: i + 0.5, h: 0 }));
  const segs: any[] = [];
  dendroMerges.forEach(([a, b, h]) => {
    const A = nodes[a];
    const B = nodes[b];
    segs.push([{ x: A.h, y: A.y }, { x: h, y: A.y }], [{ x: B.h, y: B.y }, { x: h, y: B.y }], [{ x: h, y: A.y }, { x: h, y: B.y }]);
    nodes.push({ y: (A.y + B.y) / 2, h });
  });
  const leaves = heatRows.map((_, i) => ({ x: 0, y: i + 0.5 }));
  const top = 1295;
  const hh = 390;
  const colX = [105, 134.5, 167, 196.5, 229, 258.5];
  return (
    <>
      <div style={{ position: "absolute", left: 105, top }}>
        <BarChart layout="vertical" width={183 + 320} height={hh} data={data} margin={{ top: 0, right: 0, bottom: 0, left: 0 }} barCategoryGap={0}>
          <XAxis type="number" domain={[0, 6.2]} hide allowDataOverflow />
          <YAxis type="category" dataKey="name" orientation="right" width={320} axisLine={false} tickLine={false} tickSize={0} tickMargin={3} interval={0} tick={rowTick} />
          {cols.map((c) => (
            <Bar key={c.k} dataKey={c.k} stackId="h" isAnimationActive={false} stroke="#fff" strokeWidth={0.6}>
              {data.map((d, i) => (
                <Cell key={i} fill={c.nes ? nesColor(c.nes[i]) : "#fff"} stroke={c.nes ? "#fbe9e4" : "#fff"} />
              ))}
              {c.s ? <LabelList dataKey={c.s} content={starLbl} /> : null}
            </Bar>
          ))}
        </BarChart>
      </div>
      {[[105, 59], [166.5, 60], [228.5, 60]].map(([l, w], i) => (
        <div key={i} style={{ position: "absolute", left: l, top, width: w, height: hh, border: "1.5px solid #555", boxSizing: "border-box" }} />
      ))}
      {colX.map((x, i) => (
        <div key={i} style={{ position: "absolute", left: x, top: 1278, width: 29.5, height: 10, background: i % 2 ? "#a0542e" : "#f1c49c" }} />
      ))}
      <div style={{ position: "absolute", left: 73, top }}>
        <ScatterChart width={31} height={hh} margin={{ top: 0, right: 0, bottom: 0, left: 0 }}>
          <XAxis type="number" dataKey="x" domain={[0, 1]} reversed hide />
          <YAxis type="number" dataKey="y" domain={[0, heatRows.length]} reversed hide />
          <Scatter data={leaves} isAnimationActive={false} shape={() => <g />} />
          {segs.map((s, i) => (
            <ReferenceLine key={i} segment={s} stroke="#333" strokeWidth={1} ifOverflow="visible" />
          ))}
        </ScatterChart>
      </div>
      <T x={138} y={1266} s={17} b>BMDMs</T>
      <T x={197} y={1266} s={17} b>MEFs</T>
      <T x={258} y={1266} s={17} b>MAECs</T>
      <T x={331} y={1265} s={17}>Time</T>
      <div style={{ position: "absolute", left: 313, top: 1277, width: 10, height: 10, background: "#f1c49c" }} />
      <T x={327} y={1283} s={17} a="l">1h</T>
      <div style={{ position: "absolute", left: 351, top: 1277, width: 10, height: 10, background: "#a0542e" }} />
      <T x={364} y={1283} s={17} a="l">2h</T>
      <T x={50} y={1274} s={18} b>NES</T>
      <div style={{ position: "absolute", left: 41, top: 1293, width: 13, height: 64, background: "linear-gradient(to bottom, #d7191c, #f4a4a0 30%, #ffffff 50%, #a8a8d8 70%, #28288c)" }} />
      {["4", "2", "0", "-2", "-4"].map((t, i) => (
        <T key={t} x={57} y={1295 + i * 15} s={17} b a="l">{t}</T>
      ))}
    </>
  );
}

export default function App() {
  const dW = [96, 501, 97, 90, 107];
  const eW = [95, 356, 100, 87, 103];
  const fW = [100, 417, 107, 116, 97];
  return (
    <div style={{ position: "absolute", left: 0, top: 0, width: 1830, height: 2094, background: "#fff", fontFamily: FONT, color: "#111", overflow: "hidden" }}>
      <div style={{ position: "absolute", left: 0, top: 6, width: 1830, height: 1, background: "#999" }} />

      {/* a */}
      <Letter x={20} y={67} t="a" />
      <T x={122} y={58} s={19} b a="l">Identity markers for MFs</T>
      <DotPlot genes={mfGenes} rows={mfRows} avg={[mf1Avg, mf2Avg, mf3Avg, mf4Avg]} pct={[mf1Pct, mf2Pct, mf3Pct, mf4Pct]} box={[122, 76, 554, 207]} xDom={[0.44, 28.6]} yDom={[0.4, 4.6]} rmax={10} yw={52} />

      {/* b */}
      <Letter x={831} y={67} t="b" />
      <T x={924} y={60} s={19} b a="l">Identity markers for FBs</T>
      <DotPlot genes={fbGenes} rows={fbRows} avg={[fb1Avg, fb2Avg, fb3Avg, fb4Avg, periAvg]} pct={[fb1Pct, fb2Pct, fb3Pct, fb4Pct, periPct]} box={[924, 83, 799, 252]} xDom={[0.43, 35.53]} yDom={[0.32, 5.68]} rmax={11.5} yw={100} />
      <T x={1790} y={40} s={16} b>Percent</T>
      <T x={1790} y={58} s={16} b>Expressed</T>
      <svg style={{ position: "absolute", left: 1750, top: 70 }} width={28} height={84}>
        {[25, 50, 75, 100].map((p, i) => (
          <circle key={p} cx={13} cy={13 + i * 19.5} r={(11.5 * p) / 100 * 0.75} fill="#fff" stroke="#222" strokeWidth={0.8} />
        ))}
      </svg>
      {["25", "50", "75", "100"].map((t, i) => (
        <T key={t} x={1778} y={83 + i * 19.5} s={16} a="l">{t}</T>
      ))}
      <div style={{ position: "absolute", left: 1752, top: 179, width: 17, height: 96, border: "1px solid #888", boxSizing: "border-box", background: "linear-gradient(to bottom, #e41a1c, #f29090 25%, #ffffff 50%, #90b0da 75%, #2166ac)" }} />
      {["1.0", "0.5", "0.0", "-0.5", "-1.0"].map((t, i) => (
        <T key={t} x={1775} y={185 + i * 20} s={16} a="l">{t}</T>
      ))}

      {/* c */}
      <Letter x={20} y={437} t="c" />
      <T x={116} y={455} s={19} b a="l">Identity markers for ECs</T>
      <DotPlot genes={ecGenes} rows={ecRows} avg={[ec1Avg, ec2Avg, ec3Avg]} pct={[ec1Pct, ec2Pct, ec3Pct]} box={[116, 473, 646, 130]} xDom={[0.39, 30.58]} yDom={[0, 4]} rmax={10.5} yw={50} sq />

      {/* d */}
      <Letter x={831} y={401} t="d" />
      <GoHeader x={906} y={438} w={dW} h={24} />
      <GoBlock gx={862} x0={906} w={dW} y={460} rh={23} name="MF1" rows={mf1Go} fs={14} />
      <GoBlock gx={862} x0={906} w={dW} y={572} rh={23} name="MF3" rows={mf3Go} fs={14} />

      {/* e */}
      <Letter x={20} y={695} t="e" />
      <GoHeader x={63} y={732} w={eW} h={24} />
      <GoBlock gx={24} x0={63} w={eW} y={754} rh={22} name="FB2" rows={fb2Go} fs={14} />
      <GoBlock gx={24} x0={63} w={eW} y={895} rh={22.7} name="FB3" rows={fb3Go} fs={13} />
      <GoBlock gx={24} x0={63} w={eW} y={1042} rh={22.7} name="FB4" rows={fb4Go} fs={14} />

      {/* f */}
      <Letter x={831} y={695} t="f" />
      <GoHeader x={946} y={721} w={fW} h={24} />
      <GoBlock gx={903} x0={946} w={fW} y={743} rh={22} name="EC1" rows={ec1Go} fs={14} />

      {/* g */}
      <Letter x={832} y={913} t="g" />
      <PanelG />
      <T x={876} y={1023} s={18} rot={-90} f={NARROW}>CellType</T>
      <T x={1070} y={1166} s={17} f={NARROW}>logFC</T>

      {/* h */}
      <Letter x={1224} y={912} t="h" />
      <BarDots ax={1307} y0={1135} yTop={966} xEnd={1420} c1={1339} unit={49} yMax={400} ticks={[0, 100, 200, 300, 400]} barW={30}
        groups={[{ name: "CTR", vals: mcp1Ctr, color: BLACK, marker: "tdown" }, { name: "ImP", vals: mcp1Imp, color: ORANGE, marker: "tdown" }]}
        brackets={[{ x1: 1, x2: 2, top: 393, l: 262, r: 367, text: "<0.001" }]} />
      <T x={1250} y={1035} s={19} b rot={-90}>MCP1 (pg/ml)</T>

      {/* i */}
      <Letter x={1483} y={912} t="i" />
      <BarDots ax={1542} y0={1135} yTop={966} xEnd={1655} c1={1575} unit={48} yMax={4} ticks={[0, 1, 2, 3, 4]} barW={30}
        groups={[{ name: "CTR", vals: monoCtr, color: BLACK, marker: "tdown" }, { name: "ImP", vals: monoImp, color: ORANGE, marker: "tdown" }]}
        brackets={[{ x1: 1, x2: 2, top: 3.93, l: 1.73, r: 3.67, text: "0.018" }]} />
      <T x={1503} y={1029} s={19} b rot={-90}>Monocytes (x10⁵)</T>

      {/* j */}
      <Letter x={20} y={1238} t="j" />
      <PanelJ />

      {/* k */}
      <Letter x={648} y={1235} t="k" />
      <T x={815} y={1292} s={17} b f={NARROW}>mTOR pathway (p-peptides)</T>
      <T x={816} y={1322} s={16} b f={NARROW}>BMDMs</T>
      <Gsea top={1344} h={89} rank={bmdmRank} es={bmdmEs} />
      <div style={{ position: "absolute", left: 722, top: 1437, width: 210, height: 17, background: "linear-gradient(to right, #ef9c84, #f4c9b8 30%, #eee8e4 55%, #c9dfe0 80%, #a6cdd1)" }} />
      <T x={777} y={1407} s={18} b f={NARROW} a="l">P&lt;0.001</T>
      <T x={816} y={1477} s={16} b f={NARROW}>MEFs</T>
      <Gsea top={1507} h={88} rank={mefRank} es={mefEs} />
      <div style={{ position: "absolute", left: 722, top: 1598, width: 210, height: 18, background: "linear-gradient(to right, #d7301f, #f0a08a 2%, #f4c9b8 30%, #eee8e4 55%, #c9dfe0 80%, #a6cdd1)" }} />
      <T x={777} y={1573} s={18} b f={NARROW} a="l">P&lt;0.001</T>
      <T x={655} y={1448} s={19} b rot={-90}>Enrichment Score</T>
      <T x={968} y={1337} s={17} b f={NARROW}>Log₂(Ratio) to</T>
      <T x={968} y={1359} s={17} b f={NARROW}>Unstimulated</T>
      <div style={{ position: "absolute", left: 960, top: 1374, width: 19, height: 138, background: "linear-gradient(to bottom, #67001f, #c2403e 20%, #f4a582 38%, #f7f7f7 50%, #92c5de 62%, #3a85bd 80%, #1a3f80)" }} />
      {["2", "1", "0", "-1", "-2"].map((t, i) => (
        <T key={t} x={986} y={1382 + i * 29.5} s={17} f={NARROW} a="l">{t}</T>
      ))}

      {/* l */}
      <Letter x={1073} y={1235} t="l" />
      <BarDots ax={1166} y0={1545} yTop={1361} xEnd={1297} c1={1199} unit={36.5} yMax={50} ticks={[0, 10, 20, 30, 40, 50]} barW={22} rot jit={0.28} ms={6.5} xfs={18}
        groups={[{ name: "CTR", vals: lBmdmCtr, color: BLACK, marker: "circle" }, { name: "ImP", vals: lBmdmImp, color: ORANGE, marker: "circle" }, { name: "Rapamycin", vals: lBmdmRapa, color: MAROON, marker: "circle" }]}
        brackets={[{ x1: 1, x2: 2, top: 48.1, l: 22.5, r: 45.2, text: "0.001" }, { x1: 2, x2: 3, top: 57.9, l: 55.7, r: 31.5, text: "<0.001" }]} />
      <T x={1125} y={1440} s={18} b rot={-90}>pS6Ser235/236⁺ cells (%)</T>
      <T x={1347} y={1332} s={19} b>BMDMs</T>
      <HistBox x={1306} y={1352} w={76} h={192} gate={1329} dividers={[1435, 1489]} ticks={[[1318, "0"], [1347, "10⁴"], [1380, "10⁶"]]} tickY={1560} />
      <Hist x={1306} w={76} base={1435} h={75} vals={histBmdmCtr} fill="#8e8e8e" stroke="#333" />
      <Hist x={1306} w={76} base={1489} h={82} vals={histBmdmImp} fill="#f6b98a" stroke="#e67a2a" />
      <Hist x={1306} w={76} base={1543} h={71} vals={histBmdmRapa} fill="#f3a2bd" stroke="#d6336c" />
      <div style={{ position: "absolute", left: 1316, top: 1580, width: 60, height: 1, background: "#333" }} />
      <T x={1346} y={1593} s={16}>pS6-PE</T>

      <BarDots ax={1497} y0={1542} yTop={1354} xEnd={1611} c1={1521} unit={37.5} yMax={25} ticks={[0, 5, 10, 15, 20, 25]} barW={22} rot jit={0.28} ms={6.5} xfs={18}
        groups={[{ name: "CTR", vals: lMefCtr, color: BLACK, marker: "tup" }, { name: "ImP", vals: lMefImp, color: ORANGE, marker: "tup" }, { name: "Rapamycin", vals: lMefRapa, color: MAROON, marker: "tup" }]}
        brackets={[{ x1: 1, x2: 2, top: 26.2, l: 15.6, r: 24.9, text: "0.008" }, { x1: 2, x2: 3, top: 31.3, l: 29.8, r: 14.9, text: "<0.001" }]} />
      <T x={1450} y={1440} s={18} b rot={-90}>pS6Ser235/236⁺ cells (%)</T>
      <T x={1687} y={1332} s={19} b>MEFs</T>
      <HistBox x={1643} y={1349} w={79} h={193} gate={1677} dividers={[1446, 1493]} ticks={[[1653, "0"], [1683, "10³"], [1715, "10⁵"]]} tickY={1556} />
      <Hist x={1643} w={79} base={1446} h={89} vals={histMefCtr} fill="#8e8e8e" stroke="#333" />
      <Hist x={1643} w={79} base={1493} h={47} vals={histMefImp} fill="#f6b98a" stroke="#e67a2a" />
      <Hist x={1643} w={79} base={1541} h={47} vals={histMefRapa} fill="#f3a2bd" stroke="#d6336c" />
      <div style={{ position: "absolute", left: 1655, top: 1580, width: 60, height: 1, background: "#333" }} />
      <T x={1685} y={1593} s={16}>pS6-PE</T>

      {/* m */}
      <Letter x={23} y={1747} t="m" />
      <T x={199} y={1763} s={18} b f={NARROW}>BMDMs</T>
      <T x={387} y={1763} s={18} b f={NARROW}>MEFs</T>
      <BarDots ax={149} y0={1988} yTop={1829} xEnd={267} c1={172} unit={36} yMax={100} ticks={[0, 20, 40, 60, 80, 100]} barW={24} rot jit={0.28} ms={6.5} xfs={18}
        groups={[{ name: "CTR", vals: tnfBmdmCtr, color: BLACK, marker: "circle" }, { name: "ImP", vals: tnfBmdmImp, color: ORANGE, marker: "circle" }, { name: "Rapamycin", vals: tnfBmdmRapa, color: MAROON, marker: "circle" }]}
        brackets={[{ x1: 1, x2: 2, top: 98.7, l: 64, r: 90, text: "0.001" }, { x1: 2, x2: 3, top: 119, l: 114, r: 13, text: "<0.001" }]} />
      <T x={82} y={1893} s={19} b rot={-90}>TNF (pg/ml)</T>
      <BarDots ax={324} y0={1988} yTop={1821} xEnd={443} c1={350} unit={35} yMax={80} ticks={[0, 20, 40, 60, 80]} barW={24} rot jit={0.28} ms={6.5} xfs={18}
        groups={[{ name: "CTR", vals: tnfMefCtr, color: BLACK, marker: "tup" }, { name: "ImP", vals: tnfMefImp, color: ORANGE, marker: "tup" }, { name: "Rapamycin", vals: tnfMefRapa, color: MAROON, marker: "tup" }]}
        brackets={[{ x1: 1, x2: 2, top: 69.4, l: 44, r: 61.3, text: "<0.001" }, { x1: 2, x2: 3, top: 85.6, l: 82, r: 40.7, text: "<0.001" }]} />

      {/* n */}
      <Letter x={648} y={1762} t="n" />
      <BarDots ax={757} y0={1987} yTop={1810} xEnd={875} c1={791} unit={50} yMax={80} ticks={[0, 20, 40, 60, 80]} barW={32}
        groups={[{ name: "CTR", vals: nCtr, color: BLACK, marker: "diamond" }, { name: "ImP", vals: nImp, color: ORANGE, marker: "diamond" }]}
        brackets={[{ x1: 1, x2: 2, top: 71.5, l: 38, r: 67, text: "<0.001" }]} />
      <T x={713} y={1893} s={18} b rot={-90}>pS6Ser235/236⁺ cells (%)</T>
      <HistBox x={908} y={1802} w={70} h={188} gate={940} dividers={[1930]} ticks={[[919, "0"], [945, "10⁴"], [972, "10⁵"]]} tickY={2004} />
      <Hist x={908} w={70} base={1930} h={115} vals={histNCtr} fill="#8e8e8e" stroke="#333" />
      <Hist x={908} w={70} base={1989} h={110} vals={histNImp} fill="#f6b98a" stroke="#e67a2a" />
      <div style={{ position: "absolute", left: 915, top: 2022, width: 58, height: 1, background: "#333" }} />
      <T x={945} y={2034} s={16}>pS6-PE</T>

      {/* o */}
      <Letter x={1077} y={1753} t="o" />
      <BarDots ax={1258} y0={1979} yTop={1807} xEnd={1429} c1={1285} unit={39.7} yMax={6} ticks={[0, 2, 4, 6]} barW={25} jit={0.32} ms={6}
        groups={[{ name: "CTR", vals: lesRapCtr, color: BLACK, marker: "diamond" }, { name: "ImP", vals: lesRapImp, color: ORANGE, marker: "diamond" }, { name: "CTR", vals: lesLyzCtr, color: GREEN, marker: "diamond" }, { name: "ImP", vals: lesLyzImp, color: MAROON, marker: "diamond" }]}
        brackets={[{ x1: 1, x2: 1.95, top: 6.07, l: 1.6, r: 5.72, text: "0.002" }, { x1: 2.1, x2: 4, top: 6.07, l: 5.72, r: 2.48, text: "0.011" }]} />
      <T x={1213} y={1883} s={19} b rot={-90}>Lesion aorta (%)</T>
      <T x={1253} y={2004} s={18} b a="r">Treatment</T>
      <div style={{ position: "absolute", left: 1260, top: 2017, width: 72, height: 1, background: "#555" }} />
      <div style={{ position: "absolute", left: 1360, top: 2017, width: 72, height: 1, background: "#555" }} />
      <T x={1245} y={2033} s={18} b a="r">Graft</T>
      <T x={1260} y={2033} s={18} b it a="l">Raptor<sup style={{ fontSize: 10 }}>f/f</sup></T>
      <T x={1341} y={2033} s={18} b it a="l">Lyz2ΔRaptor</T>
    </div>
  );
}
